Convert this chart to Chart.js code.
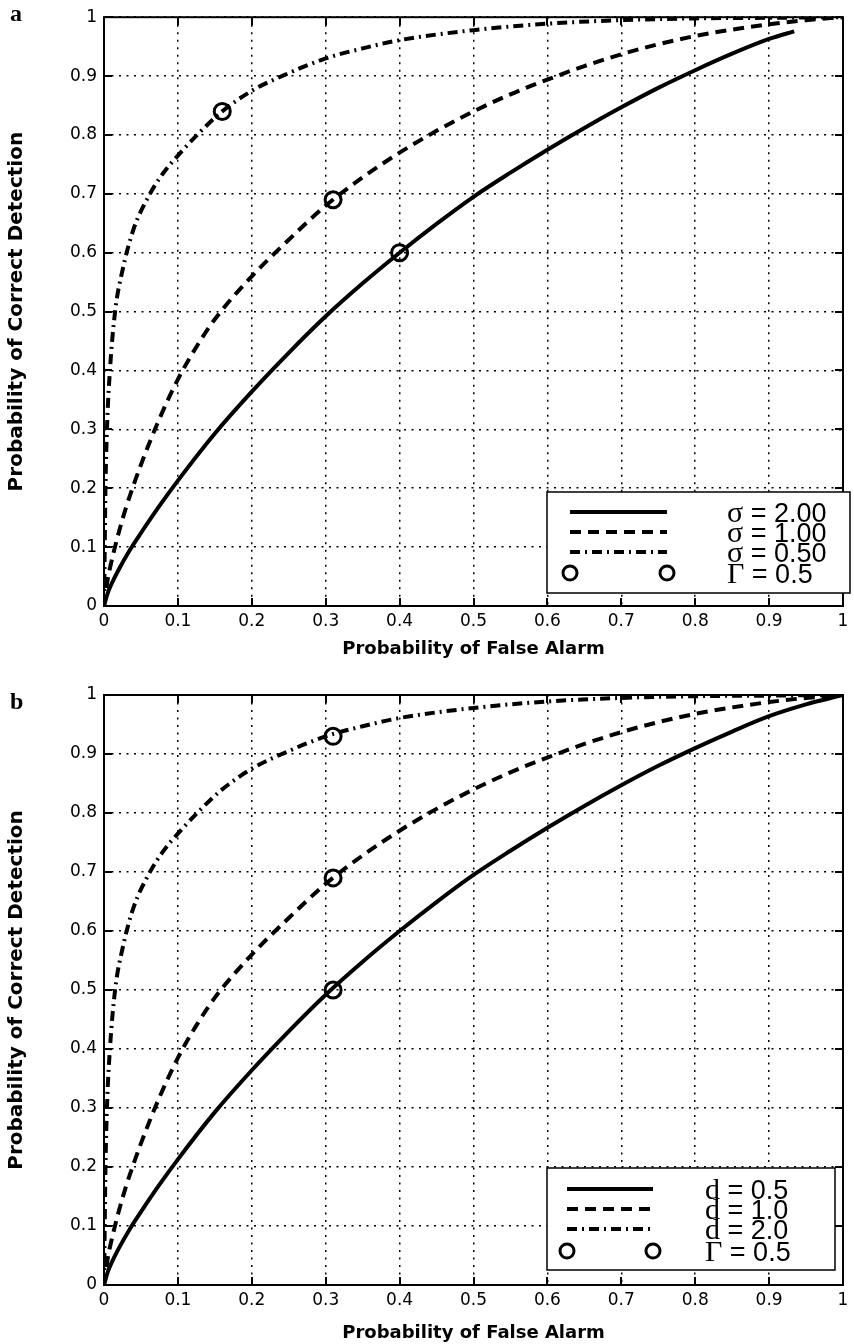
<!DOCTYPE html>
<html>
<head>
<meta charset="utf-8">
<script src="https://cdn.jsdelivr.net/npm/chart.js@4.4.0/dist/chart.umd.min.js"></script>
<style>
  body { margin: 0; background: #fff; }
  canvas { display: block; }
</style>
</head>
<body>
<canvas id="chartA" width="854" height="660"></canvas>
<canvas id="chartB" width="854" height="684"></canvas>
<script>
// axis ticks
const xTicks = [0, 0.1, 0.2, 0.3, 0.4, 0.5, 0.6, 0.7, 0.8, 0.9, 1];
const xTickLabels = ['0', '0.1', '0.2', '0.3', '0.4', '0.5', '0.6', '0.7', '0.8', '0.9', '1'];
const yTicks = [0, 0.1, 0.2, 0.3, 0.4, 0.5, 0.6, 0.7, 0.8, 0.9, 1];
const yTickLabels = ['0', '0.1', '0.2', '0.3', '0.4', '0.5', '0.6', '0.7', '0.8', '0.9', '1'];

// panel a, solid curve (sigma = 2.00), stops short of 1
const solidA_x = [0, 0.005, 0.01, 0.02, 0.035, 0.05, 0.075, 0.1, 0.15, 0.2, 0.25, 0.3, 0.35, 0.4, 0.45, 0.5, 0.55, 0.6, 0.65, 0.7, 0.75, 0.8, 0.85, 0.9, 0.934];
const solidA_y = [0, 0.022, 0.037, 0.062, 0.095, 0.124, 0.17, 0.213, 0.293, 0.364, 0.43, 0.492, 0.548, 0.6, 0.649, 0.695, 0.736, 0.775, 0.812, 0.847, 0.88, 0.91, 0.938, 0.963, 0.976];
// panel b, solid curve (d = 0.5)
const solidB_x = [0, 0.005, 0.01, 0.02, 0.035, 0.05, 0.075, 0.1, 0.15, 0.2, 0.25, 0.3, 0.35, 0.4, 0.45, 0.5, 0.55, 0.6, 0.65, 0.7, 0.75, 0.8, 0.85, 0.9, 0.95, 1];
const solidB_y = [0, 0.022, 0.037, 0.062, 0.095, 0.124, 0.17, 0.213, 0.293, 0.364, 0.43, 0.492, 0.548, 0.6, 0.649, 0.695, 0.736, 0.775, 0.812, 0.847, 0.88, 0.91, 0.938, 0.964, 0.984, 1];

// dashed curve (sigma = 1.00 / d = 1.0)
const dashX = [0, 0.005, 0.01, 0.02, 0.03, 0.05, 0.075, 0.1, 0.125, 0.15, 0.2, 0.25, 0.3, 0.35, 0.4, 0.45, 0.5, 0.55, 0.6, 0.65, 0.7, 0.75, 0.8, 0.85, 0.9, 0.95, 1];
const dashY = [0, 0.045, 0.075, 0.125, 0.168, 0.24, 0.318, 0.385, 0.44, 0.487, 0.56, 0.622, 0.68, 0.728, 0.77, 0.807, 0.84, 0.869, 0.894, 0.917, 0.937, 0.954, 0.968, 0.979, 0.988, 0.995, 1];

// dash-dot curve (sigma = 0.50 / d = 2.0)
const dotDashX = [0, 0.001, 0.002, 0.004, 0.008, 0.015, 0.025, 0.04, 0.06, 0.08, 0.1, 0.13, 0.16, 0.2, 0.25, 0.3, 0.35, 0.4, 0.5, 0.6, 0.7, 0.8, 0.9, 1];
const dotDashY = [0, 0.1, 0.2, 0.3, 0.4, 0.5, 0.57, 0.64, 0.695, 0.735, 0.765, 0.805, 0.84, 0.875, 0.905, 0.93, 0.947, 0.961, 0.978, 0.989, 0.995, 0.998, 0.999, 1];

// operating points, Gamma = 0.5
const markA_x = [0.16, 0.31, 0.40];
const markA_y = [0.84, 0.69, 0.60];
const markB_x = [0.31, 0.31, 0.31];
const markB_y = [0.93, 0.69, 0.50];

const labelsA = ['σ = 2.00', 'σ = 1.00', 'σ = 0.50', 'Γ = 0.5'];
const labelsB = ['d = 0.5', 'd = 1.0', 'd = 2.0', 'Γ = 0.5'];

function pts(xs, ys){
  return xs.map((x, i) => ({x, y: ys[i]}));
}

function curve(label, xs, ys, dash){
  return {
    label, data: pts(xs, ys),
    borderColor: '#000', borderWidth: 4, borderDash: dash,
    pointRadius: 0, fill: false, cubicInterpolationMode: 'monotone'
  };
}

function marks(label, xs, ys){
  return {
    label, data: pts(xs, ys), showLine: false, clip: false,
    pointRadius: 8, pointBorderWidth: 3, pointBorderColor: '#000',
    pointBackgroundColor: 'rgba(0,0,0,0)', borderColor: '#000'
  };
}

// box, inward ticks, panel letter and the matlab-like legend
const matlabFrame = {
  id: 'matlabFrame',
  afterDatasetsDraw(chart, args, o){
    const ctx = chart.ctx;
    const a = chart.chartArea;
    const xs = chart.scales.x, ys = chart.scales.y;
    ctx.save();
    ctx.strokeStyle = '#000';
    ctx.lineWidth = 2;
    ctx.setLineDash([]);
    ctx.strokeRect(a.left, a.top, a.right - a.left, a.bottom - a.top);
    ctx.beginPath();
    xTicks.forEach(v => {
      const px = Math.round(xs.getPixelForValue(v));
      ctx.moveTo(px, a.bottom); ctx.lineTo(px, a.bottom - 8);
      ctx.moveTo(px, a.top); ctx.lineTo(px, a.top + 8);
    });
    yTicks.forEach(v => {
      const py = Math.round(ys.getPixelForValue(v));
      ctx.moveTo(a.left, py); ctx.lineTo(a.left + 8, py);
      ctx.moveTo(a.right, py); ctx.lineTo(a.right - 8, py);
    });
    ctx.stroke();

    // panel letter
    ctx.fillStyle = '#000';
    ctx.font = 'bold 24px "Liberation Serif"';
    ctx.textBaseline = 'alphabetic';
    ctx.fillText(o.tag, 10, o.tagY);

    // legend
    const b = o.box;
    ctx.fillStyle = '#fff';
    ctx.fillRect(b[0], b[1], b[2] - b[0], b[3] - b[1]);
    ctx.lineWidth = 1.5;
    ctx.strokeRect(b[0], b[1], b[2] - b[0], b[3] - b[1]);
    chart.data.datasets.forEach((ds, i) => {
      const y = o.rows[i];
      ctx.strokeStyle = '#000';
      if (ds.showLine === false) {
        ctx.lineWidth = 3;
        ctx.setLineDash([]);
        [o.lineX[0], o.lineX[1]].forEach(cx => {
          ctx.beginPath();
          ctx.arc(cx, y, 7, 0, Math.PI * 2);
          ctx.stroke();
        });
      } else {
        ctx.lineWidth = 4;
        ctx.setLineDash(ds.borderDash);
        ctx.beginPath();
        ctx.moveTo(o.lineX[0], y); ctx.lineTo(o.lineX[1], y);
        ctx.stroke();
      }
      ctx.setLineDash([]);
      ctx.fillStyle = '#000';
      ctx.textBaseline = 'middle';
      const sym = ds.label.charAt(0);
      const rest = ds.label.slice(1);
      ctx.font = '30px "Liberation Serif"';
      ctx.fillText(sym, o.textX, y + 2);
      const w = ctx.measureText(sym).width;
      ctx.font = '27px "Liberation Sans"';
      ctx.fillText(rest, o.textX + w, y + 3);
    });
    ctx.restore();
  }
};

const tickFont = {family: '"DejaVu Sans"', size: 17};
const xTitleFont = {family: '"DejaVu Sans"', size: 18, weight: 'bold'};
const yTitleFont = {family: '"DejaVu Sans"', size: 20, weight: 'bold'};

function makeChart(id, datasets, padTop, xHeight, frame){
  return new Chart(document.getElementById(id), {
    type: 'line',
    data: {datasets},
    plugins: [matlabFrame],
    options: {
      responsive: false,
      devicePixelRatio: 1,
      animation: false,
      layout: {padding: {top: padTop, right: 2, left: 0, bottom: 0}},
      plugins: {
        legend: {display: false},
        tooltip: {enabled: false},
        matlabFrame: frame
      },
      scales: {
        x: {
          type: 'linear', min: 0, max: 1,
          afterBuildTicks: s => { s.ticks = xTicks.map(v => ({value: v})); },
          afterFit: s => { s.height = xHeight; },
          ticks: {callback: (v, i) => xTickLabels[i], font: tickFont, color: '#000', padding: 5, maxRotation: 0, autoSkip: false},
          grid: {color: '#000', lineWidth: 1.5, drawTicks: false},
          border: {display: false, dash: [2, 5.5]},
          title: {display: true, text: 'Probability of False Alarm', font: xTitleFont, color: '#000', padding: {top: 0, bottom: 0}}
        },
        y: {
          type: 'linear', min: 0, max: 1,
          afterBuildTicks: s => { s.ticks = yTicks.map(v => ({value: v})); },
          afterFit: s => { s.width = 104; },
          ticks: {callback: (v, i) => yTickLabels[i], font: tickFont, color: '#000', padding: 7, autoSkip: false},
          grid: {color: '#000', lineWidth: 1.5, drawTicks: false},
          border: {display: false, dash: [2, 5.5]},
          title: {display: true, text: 'Probability of Correct Detection', font: yTitleFont, color: '#000', padding: {top: 5, bottom: 0}}
        }
      }
    }
  });
}

makeChart('chartA', [
  curve(labelsA[0], solidA_x, solidA_y, []),
  curve(labelsA[1], dashX, dashY, [11, 7]),
  curve(labelsA[2], dotDashX, dotDashY, [10, 5, 2, 5]),
  marks(labelsA[3], markA_x, markA_y)
], 15, 54, {
  tag: 'a', tagY: 21,
  box: [547, 492, 850, 593], rows: [512, 532, 552, 573], lineX: [570, 667], textX: 727
});

makeChart('chartB', [
  curve(labelsB[0], solidB_x, solidB_y, []),
  curve(labelsB[1], dashX, dashY, [11, 7]),
  curve(labelsB[2], dotDashX, dotDashY, [10, 5, 2, 5]),
  marks(labelsB[3], markB_x, markB_y)
], 35, 59, {
  tag: 'b', tagY: 49,
  box: [547, 508, 835, 610], rows: [529, 549, 569, 591], lineX: [567, 653], textX: 705
});
</script>
</body>
</html>
